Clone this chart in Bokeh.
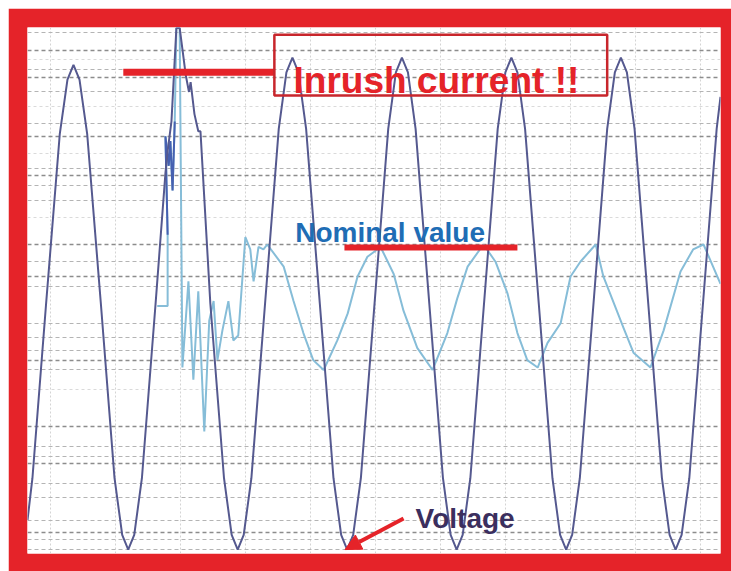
from bokeh.plotting import figure
from bokeh.models import Range1d, Grid, FixedTicker, Label, BoxAnnotation, Arrow, NormalHead
from bokeh.embed import file_html
from bokeh.resources import INLINE

# ---- data (time in ms, amplitude in p.u.) ----
volt_t = [0.0, 0.9, 3.4, 5.9, 7.3, 8.4, 9.5, 10.9, 13.4, 15.9, 17.3, 18.4,
          19.5, 20.9, 23.4, 25.2, 25.6, 26.3, 27.2, 27.8, 28.9, 29.5, 29.8, 30.5, 31.2, 31.6,
          33.4, 35.9, 37.3, 38.4,
          39.5, 40.9, 43.4, 45.9, 47.3, 48.4, 49.5, 50.9, 53.4, 55.9, 57.3, 58.4,
          59.5, 60.9, 63.4, 65.9, 67.3, 68.4, 69.5, 70.9, 73.4, 75.9, 77.3, 78.4,
          79.5, 80.9, 83.4, 85.9, 87.3, 88.4, 89.5, 90.9, 93.4, 95.9, 97.3, 98.4,
          99.5, 100.9, 103.4, 105.9, 107.3, 108.4, 109.5, 110.9, 113.4, 115.9, 117.3, 118.4,
          119.5, 120.9, 123.4, 125.9, 126.6]
volt_v = [-0.88, -0.71, 0.0, 0.69, 0.91, 0.97, 0.91, 0.69, 0.0, -0.71, -0.94, -1.0,
          -0.94, -0.71, 0.0, 0.53, 0.62, 0.74, 1.12, 1.12, 0.93, 0.86, 0.90, 0.77, 0.70, 0.70,
          0.0, -0.71, -0.94, -1.0,
          -0.94, -0.71, 0.0, 0.71, 0.94, 1.0, 0.94, 0.71, 0.0, -0.71, -0.94, -1.0,
          -0.94, -0.71, 0.0, 0.71, 0.94, 1.0, 0.94, 0.71, 0.0, -0.71, -0.94, -1.0,
          -0.94, -0.71, 0.0, 0.71, 0.94, 1.0, 0.94, 0.71, 0.0, -0.71, -0.94, -1.0,
          -0.94, -0.71, 0.0, 0.71, 0.94, 1.0, 0.94, 0.71, 0.0, -0.71, -0.94, -1.0,
          -0.94, -0.71, 0.0, 0.71, 0.84]

curr_t = [23.7, 25.6, 25.6, 25.2, 25.8, 26.1, 26.5, 26.9, 27.2, 27.8, 28.3, 29.4, 30.3,
          31.2, 32.3, 33.2, 34.0, 34.7, 35.6, 36.7, 37.6, 38.5, 39.8, 40.7, 41.3, 42.2,
          43.1, 43.8, 46.8, 48.6, 50.4, 52.2, 54.1, 56.6, 58.5, 60.3, 62.1, 64.5, 66.9,
          68.7, 71.2, 74.0, 76.7, 78.5, 80.4, 83.3, 85.5, 87.7, 89.5, 91.3, 93.2, 95.0,
          97.4, 99.2, 101.0, 103.8, 105.2, 108.9, 110.7, 113.8, 116.2, 119.3, 121.6,
          123.5, 126.6]
curr_v = [-0.01, -0.01, 0.28, 0.68, 0.56, 0.66, 0.46, 0.74, 1.12, 1.12, -0.26, 0.09, -0.31,
          0.05, -0.52, -0.07, 0.01, -0.23, -0.11, 0.01, -0.15, -0.13, 0.27, 0.22, 0.09, 0.23,
          0.22, 0.24, 0.15, 0.01, -0.12, -0.23, -0.27, -0.15, -0.04, 0.11, 0.19, 0.23, 0.12,
          -0.03, -0.18, -0.27, -0.12, 0.02, 0.15, 0.24, 0.17, 0.04, -0.12, -0.23, -0.26, -0.16,
          -0.08, 0.11, 0.17, 0.24, 0.11, -0.10, -0.20, -0.26, -0.11, 0.13, 0.22,
          0.24, 0.08]

inrush_dark_t = [25.6, 25.2, 25.8, 26.1, 26.5, 26.9]
inrush_dark_v = [0.28, 0.68, 0.56, 0.66, 0.46, 0.74]

grid_major_y = [1.03, 0.92, 0.68, 0.52, 0.24, 0.11, -0.23, -0.50, -0.65, -0.93]
grid_minor_y = [1.10, 0.95, 0.86, 0.73, 0.55, 0.48, 0.42, 0.17, 0.07, -0.08, -0.14, -0.19,
                -0.27, -0.58, -0.62, -0.73, -0.79, -0.88, -0.96, -1.0]
grid_faint_y = [0.99, 0.80, 0.61, 0.35, -0.35]
grid_x = [4.2, 16.1, 27.9, 39.8, 51.7, 63.5, 75.4, 87.3, 99.2, 111.0, 122.9]

RED = "#e52329"

p = figure(width=723, height=563, output_backend="svg", toolbar_location=None,
           x_range=Range1d(0, 126.6), y_range=Range1d(-1.016, 1.122),
           x_axis_type=None, y_axis_type=None,
           min_border_left=19, min_border_right=11, min_border_top=19, min_border_bottom=18,
           border_fill_color=RED, background_fill_color="white", outline_line_color=None)
p.margin = (8, 0, 0, 8)

p.add_layout(Grid(dimension=0, ticker=FixedTicker(ticks=grid_x), grid_line_color="#d4d4d4",
                  grid_line_dash="2 2", grid_line_width=1))
p.add_layout(Grid(dimension=1, ticker=FixedTicker(ticks=grid_faint_y), grid_line_color="#dadada",
                  grid_line_dash="3 3", grid_line_width=1))
p.add_layout(Grid(dimension=1, ticker=FixedTicker(ticks=grid_minor_y), grid_line_color="#b4b4b4",
                  grid_line_dash="4 3", grid_line_width=1))
p.add_layout(Grid(dimension=1, ticker=FixedTicker(ticks=grid_major_y), grid_line_color="#8c8c8c",
                  grid_line_dash="4 3", grid_line_width=1.6))

p.line(curr_t, curr_v, line_color="#86bdd8", line_width=2)
p.line(inrush_dark_t, inrush_dark_v, line_color="#4660b0", line_width=2)
p.line(volt_t, volt_v, line_color="#55598f", line_width=2)

# annotations
p.segment(x0=[17.5], y0=[0.94], x1=[45.1], y1=[0.94], line_color=RED, line_width=7)
p.add_layout(BoxAnnotation(left=45.1, right=105.9, top=1.093, bottom=0.846,
                           fill_alpha=0, line_color="#c8262c", line_alpha=1, line_width=2.5))
p.add_layout(Label(x=48.6, y=0.905, text="Inrush current !!", text_color=RED,
                   text_font="Liberation Sans", text_font_style="bold", text_font_size="37px",
                   text_baseline="alphabetic"))
p.add_layout(Label(x=48.9, y=0.29, text="Nominal value", text_color="#1f6db5",
                   text_font="Liberation Sans", text_font_style="bold", text_font_size="28px",
                   text_baseline="alphabetic"))
p.segment(x0=[57.9], y0=[0.228], x1=[89.5], y1=[0.228], line_color=RED, line_width=6)
p.add_layout(Label(x=70.9, y=-0.874, text="Voltage", text_color="#3b2f5e",
                   text_font="Liberation Sans", text_font_style="bold", text_font_size="28px",
                   text_baseline="alphabetic"))
p.add_layout(Arrow(end=NormalHead(size=16, fill_color=RED, line_color=RED),
                   x_start=68.7, y_start=-0.874, x_end=58.0, y_end=-1.0,
                   line_color=RED, line_width=4))

open("out.html", "w").write(file_html(p, INLINE))
